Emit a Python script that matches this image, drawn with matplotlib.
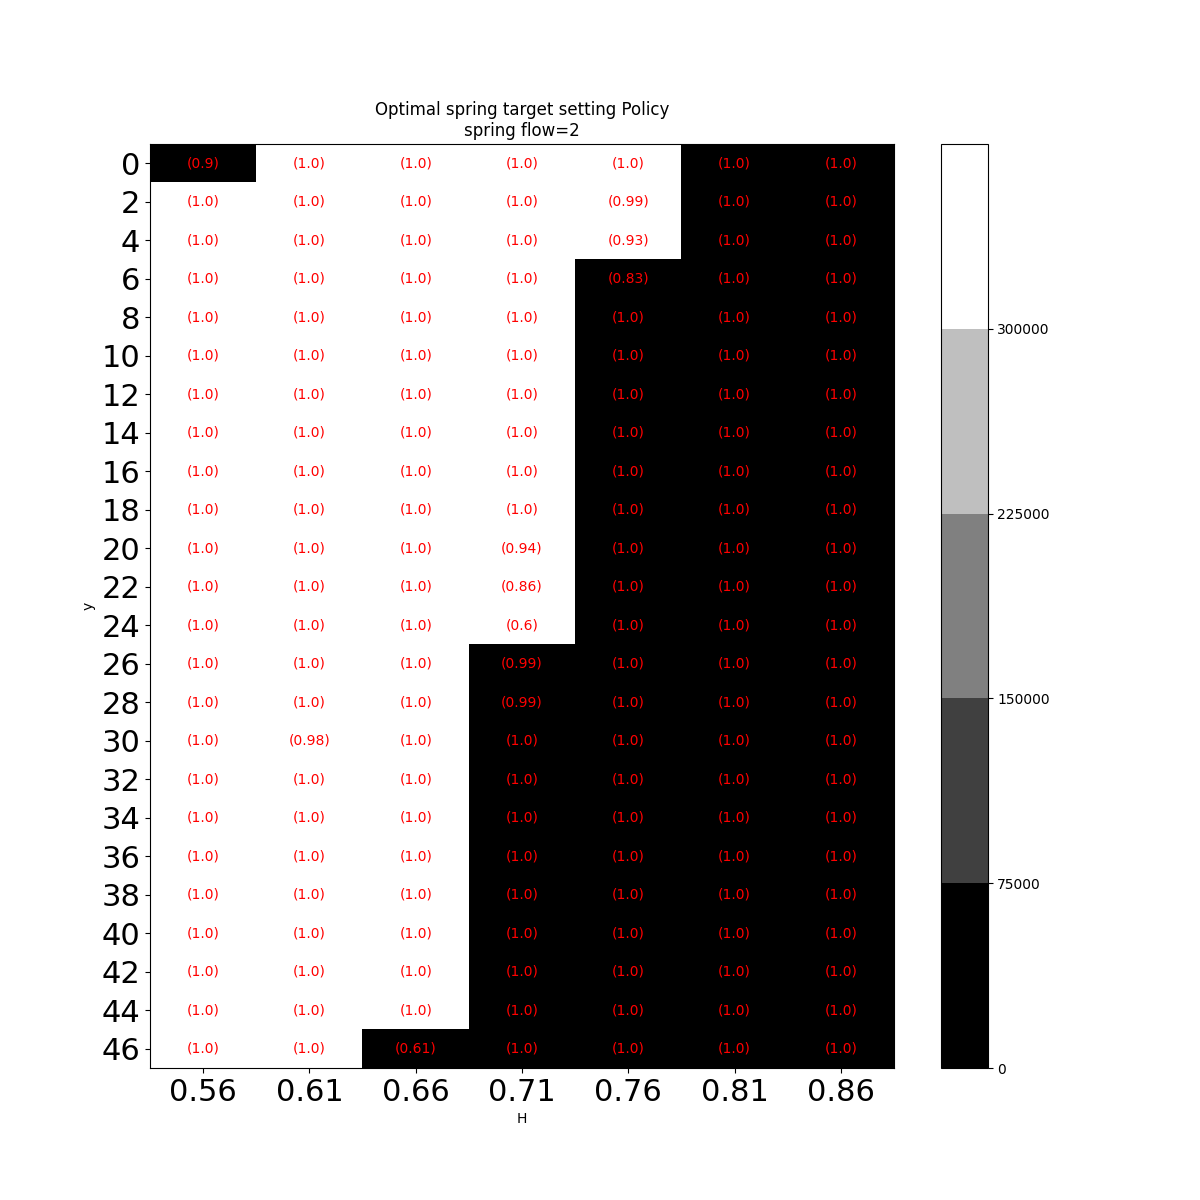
import numpy as np
import matplotlib
matplotlib.use("Agg")
import matplotlib.pyplot as plt

H = [0.56, 0.61, 0.66, 0.71, 0.76, 0.81, 0.86]
y = list(range(0, 48, 2))
# first black row index per column (len(y) = none)
black_from = [None, None, 23, 13, 3, 0, 0]
black_extra = [(0, 0)]
vmax_val = 375000

labels_default = "(1.0)"
label_exc = {(0, 0): "(0.9)", (1, 4): "(0.99)", (2, 4): "(0.93)", (3, 4): "(0.83)",
             (10, 3): "(0.94)", (11, 3): "(0.86)", (12, 3): "(0.6)", (13, 3): "(0.99)",
             (14, 3): "(0.99)", (15, 1): "(0.98)", (23, 2): "(0.61)"}

Z = np.full((len(y), len(H)), vmax_val, dtype=float)
for j, b in enumerate(black_from):
    if b is not None:
        Z[b:, j] = 0
for (i, j) in black_extra:
    Z[i, j] = 0

fig = plt.figure(figsize=(12, 12), dpi=100)
ax = fig.add_axes([0.125, 0.11, 0.62, 0.77])
cax = fig.add_axes([0.784, 0.11, 0.039, 0.77])
im = ax.imshow(Z, cmap=plt.get_cmap('gray', 5), vmin=0, vmax=vmax_val, aspect='auto')
for i in range(len(y)):
    for j in range(len(H)):
        ax.text(j, i, label_exc.get((i, j), labels_default), color='red',
                ha='center', va='center', fontsize=10)
ax.set_xticks(range(len(H)))
ax.set_xticklabels([f"{h:.2f}" for h in H], fontsize=22)
ax.set_yticks(range(len(y)))
ax.set_yticklabels([str(v) for v in y], fontsize=22)
ax.set_xlabel("H")
ax.set_ylabel("y")
ax.set_title("Optimal spring target setting Policy\nspring flow=2", fontsize=12)
cb = fig.colorbar(im, cax=cax, ticks=[0, 75000, 150000, 225000, 300000])
fig.savefig("out.png")
